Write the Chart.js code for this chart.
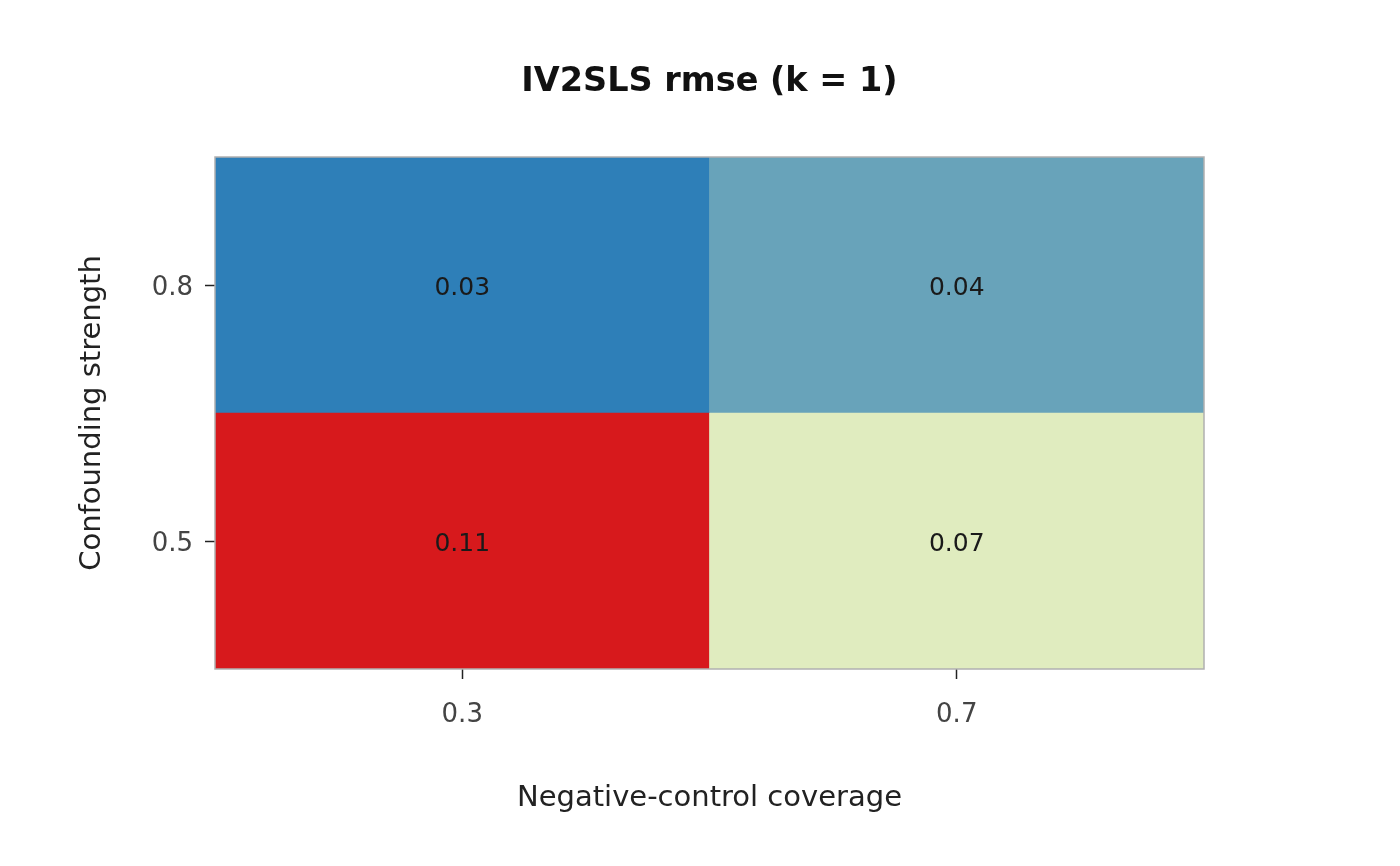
<!DOCTYPE html>
<html>
<head>
<meta charset="utf-8">
<script src="https://cdn.jsdelivr.net/npm/chart.js@4.4.1/dist/chart.umd.min.js"></script>
<style>
  html, body { margin: 0; padding: 0; background: #fff; }
  #wrap { width: 1400px; height: 866px; position: relative; }
</style>
</head>
<body>
<div id="wrap"><canvas id="heat"></canvas></div>
<script>
// Ejes del mapa de calor
const coverageLabels = ['0.3', '0.7'];          // eje x
const strengthLabels = ['0.5', '0.8'];          // eje y, de abajo hacia arriba

// rmse por fila (misma orden que strengthLabels)
const rmseRow05 = [0.11, 0.07];
const rmseRow08 = [0.03, 0.04];

const FONT = "'DejaVu Sans', sans-serif";

// Escala de color (azul = bajo, rojo = alto)
const colorStops = [
    [0.0,   [46, 127, 184]],
    [0.125, [104, 163, 186]],
    [0.5,   [224, 236, 191]],
    [1.0,   [215, 25, 28]]
];
const allVals = rmseRow05.concat(rmseRow08);
const vMin = Math.min(...allVals), vMax = Math.max(...allVals);

function colorFor(v) {
    const t = (v - vMin) / (vMax - vMin);
    for (let i = 1; i < colorStops.length; i++) {
        const [t1, c1] = colorStops[i];
        const [t0, c0] = colorStops[i - 1];
        if (t <= t1) {
            const f = (t - t0) / (t1 - t0);
            const c = c0.map((a, k) => Math.round(a + (c1[k] - a) * f));
            return `rgb(${c[0]}, ${c[1]}, ${c[2]})`;
        }
    }
    const last = colorStops[colorStops.length - 1][1];
    return `rgb(${last.join(',')})`;
}

const rows = [rmseRow05, rmseRow08];

// Etiquetas de celda + marco del área del gráfico
const cellLabels = {
    id: 'cellLabels',
    afterDatasetsDraw(chart) {
        const ctx = chart.ctx;
        ctx.save();
        ctx.font = `25px ${FONT}`;
        ctx.fillStyle = '#1a1a1a';
        ctx.textAlign = 'center';
        ctx.textBaseline = 'middle';
        chart.data.datasets.forEach((ds, di) => {
            const meta = chart.getDatasetMeta(di);
            meta.data.forEach((bar, i) => {
                const cy = (bar.y + bar.base) / 2 + 3;
                ctx.fillText(rows[di][i].toFixed(2), bar.x, cy);
            });
        });
        const a = chart.chartArea;
        ctx.strokeStyle = '#b0b0b0';
        ctx.lineWidth = 1.5;
        ctx.strokeRect(a.left, a.top, a.right - a.left, a.bottom - a.top);
        ctx.restore();
    }
};

new Chart(document.getElementById('heat'), {
    type: 'bar',
    data: {
        labels: coverageLabels,
        datasets: rows.map((row, r) => ({
            label: strengthLabels[r],
            data: row.map(() => 1),
            backgroundColor: row.map(colorFor),
            borderWidth: 0,
            barPercentage: 1,
            categoryPercentage: 1
        }))
    },
    options: {
        responsive: true,
        maintainAspectRatio: false,
        animation: false,
        layout: { padding: { top: 0, right: 196, bottom: 0, left: 0 } },
        plugins: {
            legend: { display: false },
            tooltip: { enabled: false },
            title: {
                display: true,
                text: 'IV2SLS rmse (k = 1)',
                fullSize: false,
                color: '#111',
                font: { family: FONT, size: 33.5, weight: 'bold' },
                padding: { top: 62.5, bottom: 54.3 }
            }
        },
        scales: {
            x: {
                stacked: true,
                afterFit: s => { s.height = 197; },
                grid: { drawOnChartArea: false, drawTicks: true, tickLength: 10, tickColor: '#222', tickWidth: 1.5, offset: false },
                border: { display: false },
                ticks: { color: '#444', padding: 21, font: { family: FONT, size: 26 } },
                title: {
                    display: true,
                    text: 'Negative-control coverage',
                    color: '#222',
                    font: { family: FONT, size: 29 },
                    padding: { top: 0, bottom: 50 }
                }
            },
            y: {
                stacked: true,
                min: 0,
                max: 2,
                afterFit: s => { s.width = 215; },
                afterBuildTicks: s => { s.ticks = [{ value: 0.5 }, { value: 1.5 }]; },
                grid: { drawOnChartArea: false, drawTicks: true, tickLength: 10, tickColor: '#222', tickWidth: 1.5 },
                border: { display: false },
                ticks: {
                    color: '#444',
                    padding: 12,
                    labelOffset: 3,
                    font: { family: FONT, size: 26 },
                    callback: (v, i) => strengthLabels[i]
                },
                title: {
                    display: true,
                    text: 'Confounding strength',
                    color: '#222',
                    font: { family: FONT, size: 29 },
                    padding: { top: 74.6, bottom: 0 }
                }
            }
        }
    },
    plugins: [cellLabels]
});
</script>
</body>
</html>
